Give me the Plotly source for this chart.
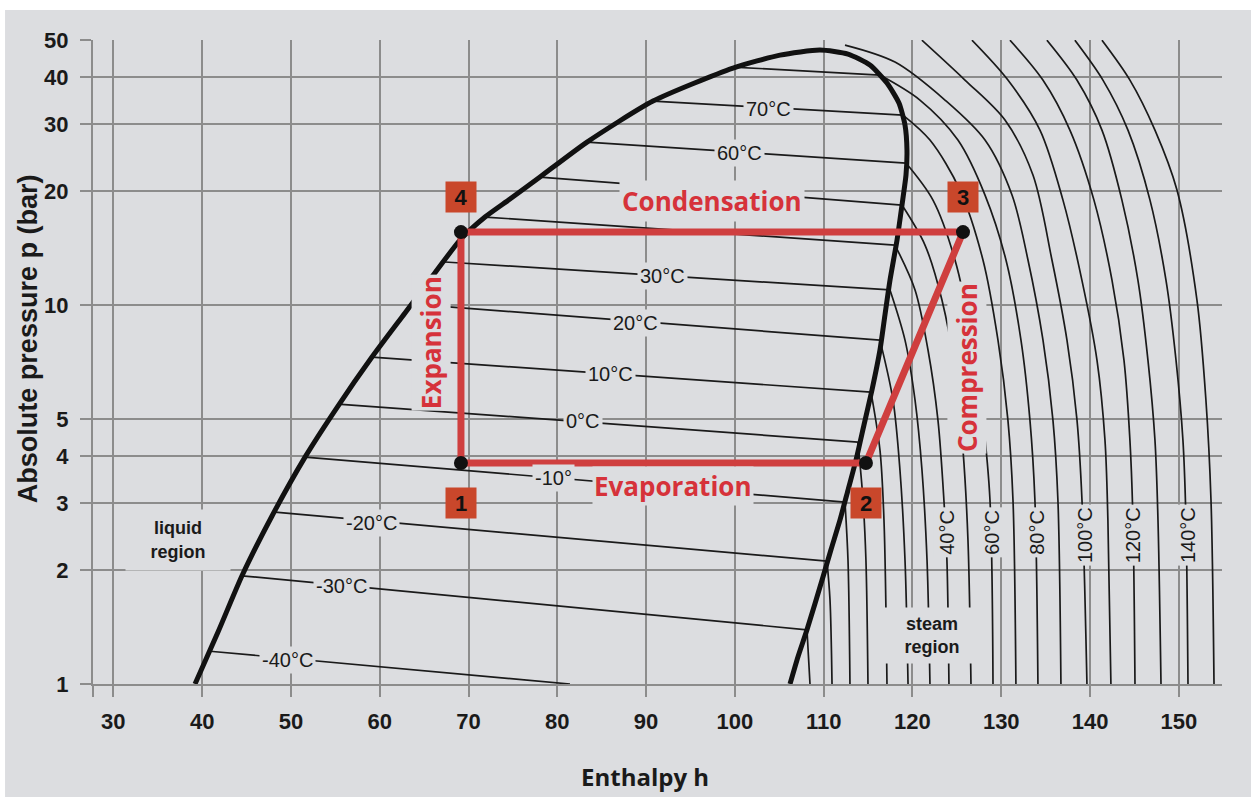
import math
import plotly.graph_objects as go

BG = "#dcdde0"
GRID = "#8c8c8c"
INK = "#1a1a1a"
RED = "#cf3f3f"
BOX = "#c9472b"

# ---- data (enthalpy h, absolute pressure p in bar) ----
dome_h = [39.20, 41.79, 44.49, 47.87, 51.59, 55.30, 59.13, 62.85, 66.12, 69.04, 71.86, 74.67,
          78.05, 83.35, 90.78, 99.79, 105.08, 109.58,
          112.74, 115.21, 117.13, 118.48, 119.16, 119.38, 119.27, 118.82, 118.26, 117.47,
          116.90, 116.34, 115.44, 114.54, 113.64, 112.74, 111.84, 110.82, 109.92, 108.12,
          107.11, 106.21]
dome_p = [1.00, 1.371, 1.93, 2.776, 3.97, 5.414, 7.29, 9.53, 12.07, 14.84, 17.07, 19.04,
          21.77, 26.92, 34.54, 42.21, 45.66, 47.09,
          45.95, 42.98, 38.53, 34.12, 29.85, 25.64, 22.03, 18.36, 14.84, 11.64,
          9.41, 7.61, 5.97, 4.83, 3.90, 3.25, 2.71, 2.26, 1.916, 1.39,
          1.18, 1.00]

sat_T = [-40, -30, -20, -10, 0, 10, 20, 30, 40, 50, 60, 70, 80]
sat_h_liq = [40.89, 44.49, 48.21, 51.59, 55.30, 59.13, 63.75, 67.35, 71.86, 78.05, 83.35, 90.78, 99.79]
sat_p_liq = [1.22, 1.93, 2.84, 3.97, 5.48, 7.29, 10.06, 12.99, 17.07, 21.77, 26.92, 34.54, 42.46]
sat_h_vap = [81.43, 108.12, 110.37, 112.40, 113.86, 115.33, 116.34, 117.47, 118.03, 118.82, 119.27, 118.93, 116.34]
sat_p_vap = [1.00, 1.39, 2.11, 3.02, 4.35, 5.89, 8.08, 10.96, 14.40, 18.36, 23.70, 31.72, 40.45]

sh_T = [-30, -20, -10, 0, 10, 20, 30, 40, 50, 60, 70, 80, 90, 100, 110, 120, 130, 140, 150]
sh_h = [
    [108.12, 108.28, 108.46],
    [110.37, 110.71, 110.94],
    [112.40, 112.74, 112.96],
    [113.86, 114.43, 114.76, 114.99],
    [115.33, 116.34, 116.79, 117.13],
    [116.34, 117.81, 118.59, 119.16, 119.50],
    [117.47, 119.16, 120.29, 121.07, 121.64, 121.97],
    [118.03, 120.29, 121.75, 122.87, 123.54, 123.88, 124.11],
    [118.82, 121.41, 123.32, 124.79, 125.69, 126.25, 126.59],
    [119.27, 122.31, 124.79, 126.70, 127.94, 128.73, 129.07],
    [118.93, 121.97, 125.35, 127.94, 129.63, 130.75, 131.32, 131.65],
    [116.34, 120.84, 125.12, 128.17, 130.53, 132.22, 133.23, 133.79, 134.13],
    [112.40, 118.03, 123.66, 128.17, 131.21, 133.01, 134.70, 135.82, 136.38, 136.72],
    [121.06, 125.91, 130.42, 133.57, 135.71, 137.40, 138.53, 139.09, 139.65],
    [126.70, 130.75, 134.36, 136.95, 139.08, 140.78, 141.68, 142.01, 142.35],
    [130.98, 134.69, 137.73, 140.44, 142.47, 143.82, 144.49, 144.83, 145.06],
    [135.14, 138.52, 141.34, 143.59, 145.39, 146.52, 147.31, 147.65, 147.99],
    [138.29, 141.45, 144.27, 146.75, 148.55, 149.68, 150.46, 150.80, 151.03],
    [141.34, 144.49, 147.31, 149.79, 152.04, 153.05, 153.62, 153.96],
]
sh_p = [
    [1.39, 1.19, 1.00],
    [2.11, 1.67, 1.00],
    [3.02, 2.12, 1.00],
    [4.35, 3.06, 2.12, 1.00],
    [5.89, 4.14, 2.71, 1.00],
    [8.08, 5.61, 3.67, 2.12, 1.00],
    [10.96, 8.08, 5.61, 3.67, 2.12, 1.00],
    [14.40, 10.96, 7.61, 4.97, 3.06, 2.12, 1.00],
    [18.36, 14.40, 10.31, 6.74, 4.14, 2.40, 1.00],
    [23.70, 18.92, 13.15, 8.08, 4.97, 3.06, 1.00],
    [31.72, 27.25, 20.11, 13.15, 8.08, 4.97, 3.06, 1.00],
    [40.45, 34.75, 27.25, 19.51, 13.15, 8.08, 4.97, 3.06, 1.00],
    [48.53, 43.77, 34.75, 27.25, 19.51, 13.15, 8.08, 4.97, 3.06, 1.00],
    [50.0, 39.24, 30.77, 22.03, 13.15, 8.08, 4.97, 3.06, 1.00],
    [50.0, 39.24, 28.95, 18.92, 11.64, 7.16, 4.40, 2.71, 1.00],
    [50.0, 39.24, 28.95, 18.92, 11.64, 7.16, 4.40, 2.71, 1.00],
    [50.0, 39.24, 28.95, 18.92, 11.64, 7.16, 4.40, 2.71, 1.00],
    [50.0, 39.24, 28.95, 18.92, 11.64, 7.16, 4.40, 2.71, 1.00],
    [50.0, 39.24, 28.95, 20.11, 10.31, 5.61, 3.06, 1.00],
]

cycle_labels = ["1", "2", "3", "4"]
cycle_h = [69.15, 114.76, 125.69, 69.15]
cycle_p = [3.83, 3.83, 15.58, 15.58]

x_ticks = [30, 40, 50, 60, 70, 80, 90, 100, 110, 120, 130, 140, 150]
y_ticks = [1, 2, 3, 4, 5, 10, 20, 30, 40, 50]

# isotherm labels inside the dome: text, h, p
in_lab_text = ["70°C", "60°C", "30°C", "20°C", "10°C", "0°C", "-10°", "-20°C", "-30°C", "-40°C"]
in_lab_h = [103.73, 100.57, 91.90, 88.86, 86.04, 82.89, 79.52, 59.13, 55.75, 49.67]
in_lab_p = [32.89, 25.18, 11.93, 8.97, 6.58, 4.94, 3.50, 2.66, 1.81, 1.157]

# vertical isotherm labels in the steam region
sh_lab_text = ["40°C", "60°C", "80°C", "100°C", "120°C", "140°C"]
sh_lab_h = [123.88, 128.95, 134.02, 139.42, 144.83, 151.02]
sh_lab_p = [2.52, 2.52, 2.52, 2.47, 2.47, 2.47]

X_MIN, X_MAX = 27.71, 154.86

fig = go.Figure()

for i in range(len(sat_T)):
    fig.add_trace(go.Scatter(x=[sat_h_liq[i], sat_h_vap[i]], y=[sat_p_liq[i], sat_p_vap[i]],
                             mode="lines", line=dict(color=INK, width=1.7), hoverinfo="skip"))
for i in range(len(sh_T)):
    fig.add_trace(go.Scatter(x=sh_h[i], y=sh_p[i], mode="lines",
                             line=dict(color=INK, width=1.7, shape="spline", smoothing=0.9),
                             hoverinfo="skip"))
fig.add_trace(go.Scatter(x=dome_h, y=dome_p, mode="lines",
                         line=dict(color="#111111", width=5, shape="spline", smoothing=0.6),
                         hoverinfo="skip"))
order = [0, 1, 2, 3, 0]
fig.add_trace(go.Scatter(x=[cycle_h[k] for k in order], y=[cycle_p[k] for k in order],
                         mode="lines", line=dict(color=RED, width=7), hoverinfo="skip"))
fig.add_trace(go.Scatter(x=cycle_h, y=cycle_p, mode="markers",
                         marker=dict(color="#111111", size=14), hoverinfo="skip"))

ann = []
lab_font = dict(family="Liberation Sans", size=20, color=INK)
for t, h, p in zip(in_lab_text, in_lab_h, in_lab_p):
    ann.append(dict(x=h, y=math.log10(p), text=t, showarrow=False, font=lab_font,
                    bgcolor=BG, borderpad=2, xanchor="center", yanchor="middle"))
for t, h, p in zip(sh_lab_text, sh_lab_h, sh_lab_p):
    ann.append(dict(x=h, y=math.log10(p), text=t, showarrow=False, font=lab_font, textangle=-90,
                    bgcolor=BG, borderpad=2, xanchor="center", yanchor="middle"))

red_font = dict(family="Open Sans", size=26, color="#d6323a", weight="bold")
ann.append(dict(x=97.42, y=math.log10(18.81), text="Condensation", showarrow=False, font=red_font,
                bgcolor=BG, borderpad=2, xanchor="center", yanchor="middle"))
ann.append(dict(x=93.03, y=math.log10(3.33), text="Evaporation", showarrow=False, font=red_font,
                bgcolor=BG, borderpad=1, xanchor="center", yanchor="middle"))
ann.append(dict(x=65.79, y=math.log10(7.94), text="Expansion", showarrow=False, font=red_font,
                textangle=-90, bgcolor=BG, borderpad=1, xanchor="center", yanchor="middle"))
ann.append(dict(x=126.14, y=math.log10(6.86), text="Compression", showarrow=False, font=red_font,
                textangle=-90, bgcolor=BG, borderpad=1, xanchor="center", yanchor="middle"))

box_p = [3.00, 3.00, 19.28, 19.28]
for t, h, p in zip(cycle_labels, cycle_h, box_p):
    ann.append(dict(x=h, y=math.log10(p), text=t, showarrow=False,
                    font=dict(family="Liberation Sans", size=22, color="#111111", weight="bold"),
                    bgcolor=BOX, width=26, height=26, borderpad=2,
                    xanchor="center", yanchor="middle"))

reg_font = dict(family="Liberation Sans", size=18, color=INK, weight="bold")
ann.append(dict(x=37.3, y=math.log10(2.40), text="liquid<br>region", showarrow=False, font=reg_font,
                bgcolor=BG, width=96, height=52, borderpad=4, xanchor="center", yanchor="middle"))
ann.append(dict(x=122.2, y=math.log10(1.339), text="steam<br>region", showarrow=False, font=reg_font,
                bgcolor=BG, width=108, height=47, borderpad=4, xanchor="center", yanchor="middle"))

ann.append(dict(xref="paper", yref="paper", x=-0.0576, y=0.537, text="Absolute pressure p (bar)",
                textangle=-90, showarrow=False, xanchor="center", yanchor="middle",
                font=dict(family="Liberation Sans", size=27, color=INK, weight="bold")))
ann.append(dict(xref="paper", yref="paper", x=0.489, y=-0.144, text="Enthalpy h",
                showarrow=False, xanchor="center", yanchor="middle",
                font=dict(family="Open Sans", size=24, color=INK, weight="bold")))

tick_font = dict(family="Liberation Sans", size=22, color=INK, weight="bold")
fig.update_layout(
    width=1251, height=797,
    margin=dict(l=93, r=29, t=40, b=113),
    paper_bgcolor=BG, plot_bgcolor=BG,
    showlegend=False,
    annotations=ann,
    shapes=[
        dict(type="rect", xref="paper", yref="paper", x0=-0.1, x1=1.05, y0=1.0466, y1=1.07,
             fillcolor="white", line=dict(width=0), layer="above"),
        dict(type="rect", xref="paper", yref="paper", x0=-0.1, x1=-0.0779, y0=-0.3, y1=1.07,
             fillcolor="white", line=dict(width=0), layer="above"),
    ],
    xaxis=dict(range=[X_MIN, X_MAX], tickvals=[X_MIN] + x_ticks,
               ticktext=[""] + [str(v) for v in x_ticks],
               showgrid=True, gridcolor=GRID, gridwidth=2, zeroline=False,
               ticks="outside", ticklen=11, tickwidth=2, tickcolor=GRID, ticklabelstandoff=6,
               showline=True, linecolor=GRID, linewidth=2, tickfont=tick_font),
    yaxis=dict(type="log", range=[0, math.log10(50) + 0.0005], tickvals=y_ticks,
               ticktext=[str(v) for v in y_ticks],
               showgrid=True, gridcolor=GRID, gridwidth=2, zeroline=False,
               ticks="outside", ticklen=11, tickwidth=2, tickcolor=GRID, ticklabelstandoff=7,
               showline=True, linecolor=GRID, linewidth=2, tickfont=tick_font),
)

fig.write_html("out.html")
